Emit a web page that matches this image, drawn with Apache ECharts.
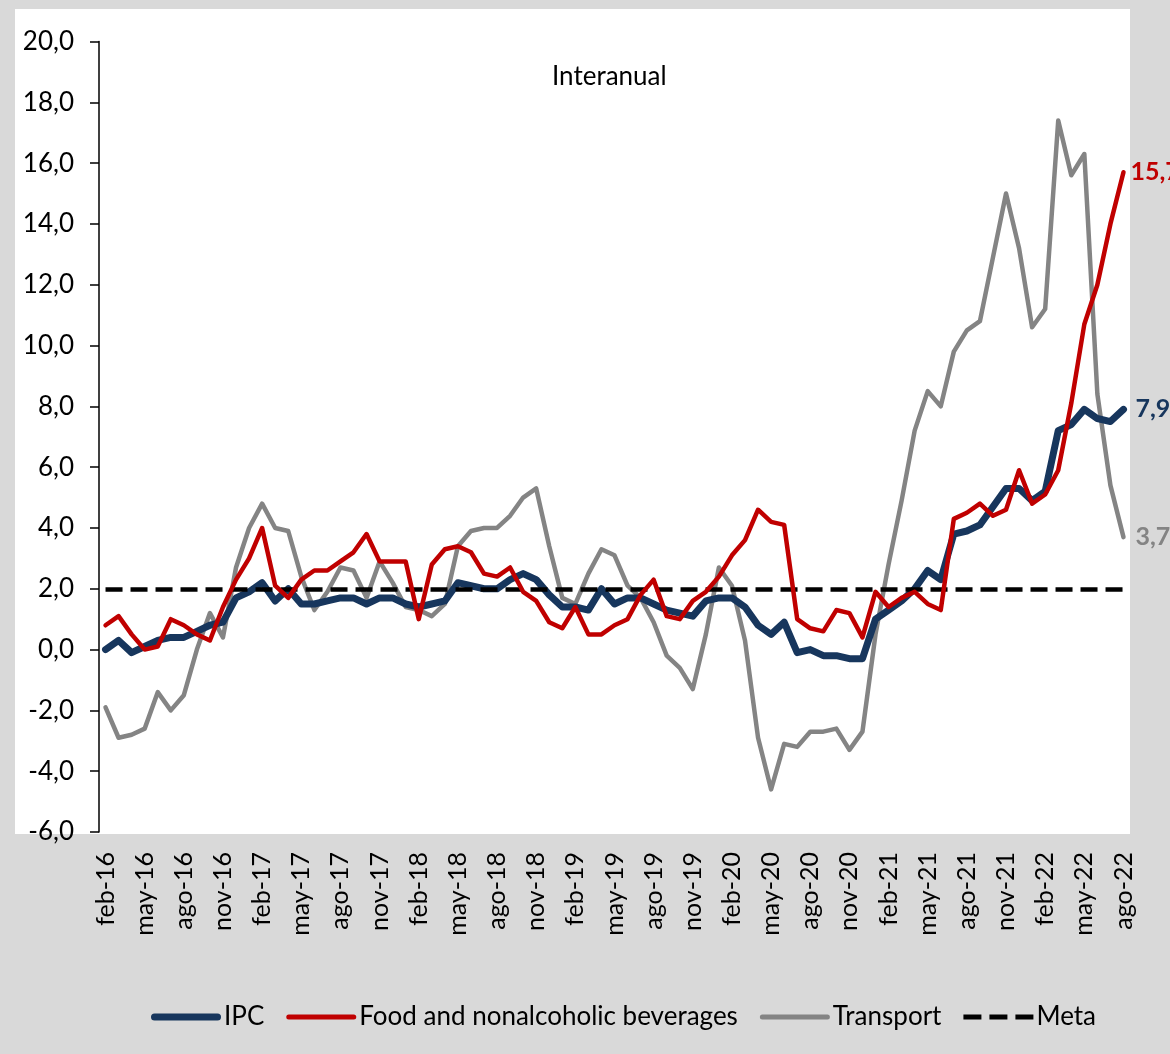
<!DOCTYPE html>
<html>
<head>
<meta charset="utf-8">
<script src="https://cdn.jsdelivr.net/npm/echarts@6/dist/echarts.min.js"></script>
<style>
html,body{margin:0;padding:0;background:#d9d9d9;}
#chart{width:1170px;height:1054px;}
</style>
</head>
<body>
<div id="chart"></div>
<script>
// ---- data ----
const monthNames = ['ene','feb','mar','abr','may','jun','jul','ago','sep','oct','nov','dic'];
const categories = [];
for (let y = 16; y <= 22; y++) {
  for (let m = 0; m < 12; m++) {
    if (y === 16 && m < 1) continue;
    if (y === 22 && m > 7) continue;
    categories.push(monthNames[m] + '-' + y);
  }
}

const ipc = [
  0.0, 0.3, -0.1, 0.1, 0.3, 0.4, 0.4, 0.6, 0.8, 0.9,
  1.7, 1.9, 2.2, 1.6, 2.0, 1.5, 1.5, 1.6, 1.7, 1.7,
  1.5, 1.7, 1.7, 1.5, 1.4, 1.5, 1.6, 2.2, 2.1, 2.0,
  2.0, 2.3, 2.5, 2.3, 1.8, 1.4, 1.4, 1.3, 2.0, 1.5,
  1.7, 1.7, 1.5, 1.3, 1.2, 1.1, 1.6, 1.7, 1.7, 1.4,
  0.8, 0.5, 0.9, -0.1, 0.0, -0.2, -0.2, -0.3, -0.3, 1.0,
  1.3, 1.6, 2.0, 2.6, 2.3, 3.8, 3.9, 4.1, 4.7, 5.3,
  5.3, 4.9, 5.2, 7.2, 7.4, 7.9, 7.6, 7.5, 7.9
];

const food = [
  0.8, 1.1, 0.5, 0.0, 0.1, 1.0, 0.8, 0.5, 0.3, 1.4,
  2.3, 3.0, 4.0, 2.1, 1.7, 2.3, 2.6, 2.6, 2.9, 3.2,
  3.8, 2.9, 2.9, 2.9, 1.0, 2.8, 3.3, 3.4, 3.2, 2.5,
  2.4, 2.7, 1.9, 1.6, 0.9, 0.7, 1.4, 0.5, 0.5, 0.8,
  1.0, 1.8, 2.3, 1.1, 1.0, 1.6, 1.9, 2.4, 3.1, 3.6,
  4.6, 4.2, 4.1, 1.0, 0.7, 0.6, 1.3, 1.2, 0.4, 1.9,
  1.4, 1.7, 1.9, 1.5, 1.3, 4.3, 4.5, 4.8, 4.4, 4.6,
  5.9, 4.8, 5.1, 5.9, 8.1, 10.7, 12.0, 14.0, 15.7
];

const transport = [
  -1.9, -2.9, -2.8, -2.6, -1.4, -2.0, -1.5, 0.0, 1.2, 0.4,
  2.7, 4.0, 4.8, 4.0, 3.9, 2.4, 1.3, 1.9, 2.7, 2.6,
  1.7, 2.9, 2.2, 1.4, 1.3, 1.1, 1.5, 3.4, 3.9, 4.0,
  4.0, 4.4, 5.0, 5.3, 3.4, 1.7, 1.5, 2.5, 3.3, 3.1,
  2.1, 1.7, 0.9, -0.2, -0.6, -1.3, 0.5, 2.7, 2.1, 0.3,
  -2.9, -4.6, -3.1, -3.2, -2.7, -2.7, -2.6, -3.3, -2.7, 0.5,
  2.8, 4.9, 7.2, 8.5, 8.0, 9.8, 10.5, 10.8, 12.9, 15.0,
  13.2, 10.6, 11.2, 17.4, 15.6, 16.3, 8.4, 5.4, 3.7
];

const metaTarget = 2.0;
const seriesNames = ['IPC', 'Food and nonalcoholic beverages', 'Transport', 'Meta'];
const yMin = -6, yMax = 20, yStep = 2;
const titleText = 'Interanual';

// ---- chart ----
const FONT = 'Lato, "Open Sans", sans-serif';
const fmt = v => Number(v).toFixed(1).replace('.', ',');
const C_IPC = '#17365d', C_FOOD = '#c00000', C_TR = '#848484';

const ICON_THICK = 'path://M3.5,0H66.5A3.5,3.5 0 0 1 66.5,7H3.5A3.5,3.5 0 0 1 3.5,0Z';
const ICON_THIN = 'path://M2.5,0H67.5A2.5,2.5 0 0 1 67.5,5H2.5A2.5,2.5 0 0 1 2.5,0Z';
const ICON_DASH = 'path://M0,0H18V5H0Z M26,0H44V5H26Z M52,0H70V5H52Z';

const chart = echarts.init(document.getElementById('chart'), null, {renderer: 'canvas'});
chart.setOption({
  backgroundColor: '#d9d9d9',
  animation: false,
  textStyle: {fontFamily: FONT, color: '#000'},
  graphic: [{
    type: 'rect', z: -10, silent: true,
    shape: {x: 15, y: 9, width: 1115, height: 825},
    style: {fill: '#ffffff'}
  }],
  title: {
    text: titleText, left: 547, top: 59,
    textStyle: {fontFamily: FONT, fontSize: 26, fontWeight: 'normal', color: '#000'}
  },
  legend: {
    left: 146, top: 999,
    itemWidth: 70, itemHeight: 26, itemGap: 22,
    symbolKeepAspect: true,
    data: [
      {name: seriesNames[0], icon: ICON_THICK},
      {name: seriesNames[1], icon: ICON_THIN},
      {name: seriesNames[2], icon: ICON_THIN},
      {name: seriesNames[3], icon: ICON_DASH}
    ],
    textStyle: {fontFamily: FONT, fontSize: 26, color: '#000', padding: [0, 0, 0, -2]}
  },
  grid: {left: 99, right: 40, top: 41.5, bottom: 222, containLabel: false},
  xAxis: {
    type: 'category', data: categories, boundaryGap: true,
    axisLine: {show: false}, axisTick: {show: false},
    axisLabel: {interval: 2, rotate: 90, margin: 20, fontFamily: FONT, fontSize: 25, color: '#000'}
  },
  yAxis: {
    type: 'value', min: yMin, max: yMax, interval: yStep,
    axisLine: {show: true, lineStyle: {color: '#000', width: 1.5}},
    axisTick: {show: true, length: 9, lineStyle: {color: '#000', width: 1.5}},
    splitLine: {show: false},
    axisLabel: {formatter: fmt, margin: 25, fontFamily: FONT, fontSize: 26, color: '#000'}
  },
  series: [
    {
      name: seriesNames[0], type: 'line', data: ipc, symbol: 'none', z: 4,
      lineStyle: {color: C_IPC, width: 7, cap: 'round', join: 'round'},
      itemStyle: {color: C_IPC},
      endLabel: {show: true, formatter: p => fmt(p.value), distance: 12,
        fontFamily: FONT, fontSize: 25, fontWeight: 'bold', color: C_IPC}
    },
    {
      name: seriesNames[1], type: 'line', data: food, symbol: 'none', z: 5,
      lineStyle: {color: C_FOOD, width: 4.5, cap: 'round', join: 'round'},
      itemStyle: {color: C_FOOD},
      endLabel: {show: true, formatter: p => fmt(p.value), distance: 7,
        fontFamily: FONT, fontSize: 25, fontWeight: 'bold', color: C_FOOD}
    },
    {
      name: seriesNames[2], type: 'line', data: transport, symbol: 'none', z: 3,
      lineStyle: {color: C_TR, width: 4.5, cap: 'round', join: 'round'},
      itemStyle: {color: C_TR},
      endLabel: {show: true, formatter: p => fmt(p.value), distance: 12,
        fontFamily: FONT, fontSize: 25, fontWeight: 'bold', color: C_TR}
    },
    {
      name: seriesNames[3], type: 'line', data: [], symbol: 'none', z: 6,
      lineStyle: {color: '#000', width: 4.5, type: [17, 8]},
      itemStyle: {color: '#000'},
      markLine: {
        silent: true, symbol: 'none', label: {show: false},
        lineStyle: {color: '#000', width: 4.5, type: [17, 8]},
        data: [[
          {xAxis: categories[0], yAxis: metaTarget},
          {xAxis: categories[categories.length - 1], yAxis: metaTarget}
        ]]
      }
    }
  ]
});
</script>
</body>
</html>
